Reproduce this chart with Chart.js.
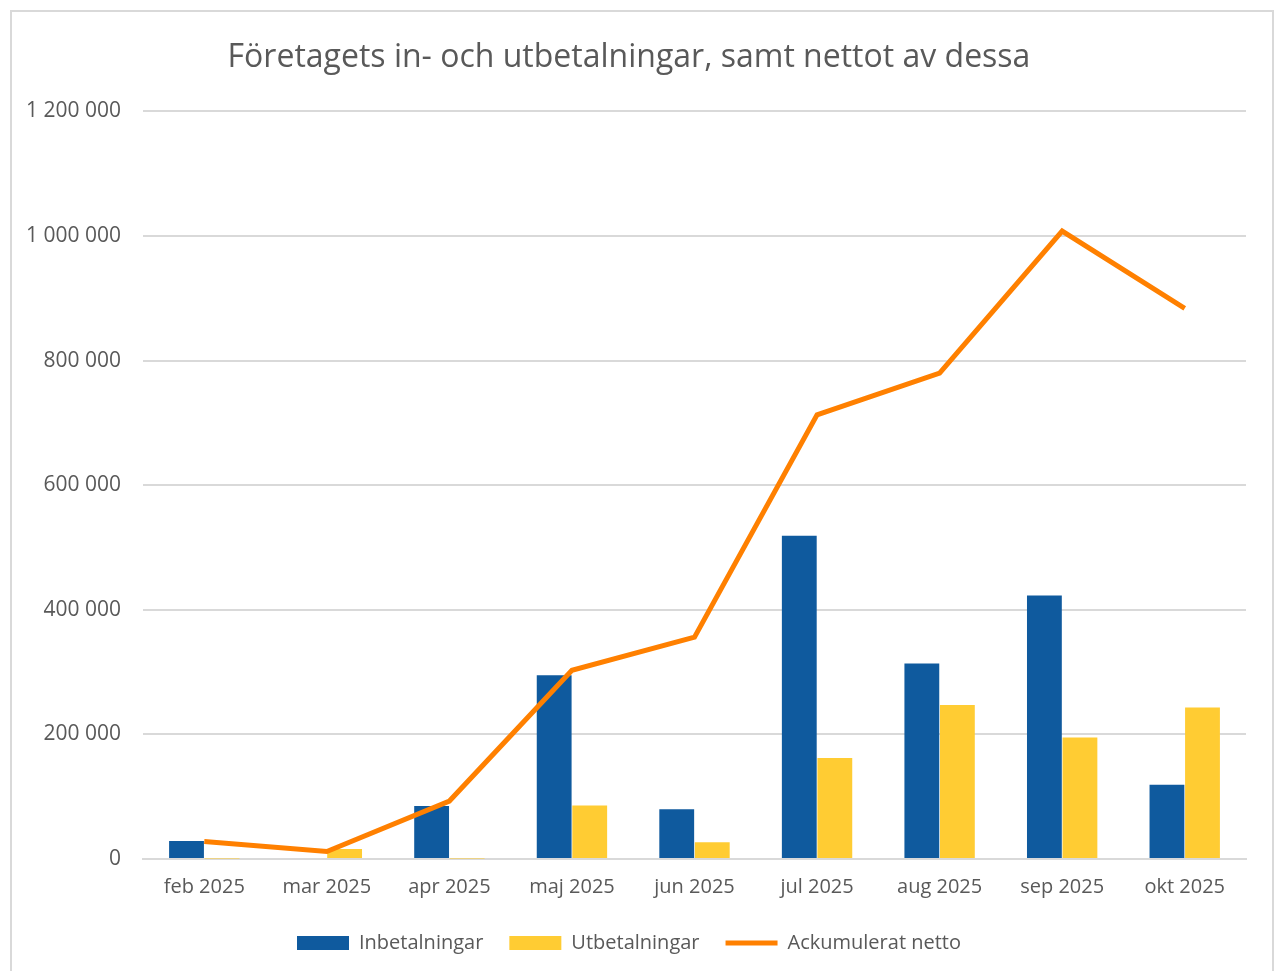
<!DOCTYPE html>
<html>
<head>
<meta charset="utf-8">
<script src="https://cdn.jsdelivr.net/npm/chart.js@4.4.1/dist/chart.umd.min.js"></script>
<style>
  body { margin: 0; background: #fff; }
  #wrap {
    position: absolute; left: 10px; top: 10px;
    width: 1264px; height: 975px;
    border: 2px solid #d9d9d9; box-sizing: border-box;
  }
</style>
</head>
<body>
<div id="wrap"><canvas id="chart"></canvas></div>
<script>
// data
const months = ['feb 2025', 'mar 2025', 'apr 2025', 'maj 2025', 'jun 2025', 'jul 2025', 'aug 2025', 'sep 2025', 'okt 2025'];
const inbetalningar = [29000, 0, 85000, 295000, 80000, 519000, 314000, 423000, 119000];
const utbetalningar = [1000, 16000, 1000, 86000, 27000, 162000, 247000, 195000, 243000];
const ackNetto = [28000, 12000, 93000, 303000, 356000, 713000, 780000, 1008000, 884000];
const yTicks = [0, 200000, 400000, 600000, 800000, 1000000, 1200000];

const grey = '#595959';
const fmt = v => String(v).replace(/\B(?=(\d{3})+(?!\d))/g, ' ');

document.addEventListener('DOMContentLoaded', function() {
    const ctx = document.getElementById('chart').getContext('2d');

    new Chart(ctx, {
        data: {
            labels: months,
            datasets: [
                {
                    type: 'line',
                    label: 'Ackumulerat netto',
                    data: ackNetto,
                    borderColor: '#ff8000',
                    backgroundColor: '#ff8000',
                    borderWidth: 5,
                    tension: 0,
                    pointRadius: 0,
                    pointStyle: 'line',
                    order: 0
                },
                {
                    type: 'bar',
                    label: 'Inbetalningar',
                    data: inbetalningar,
                    backgroundColor: '#0f5a9e',
                    pointStyle: 'rect',
                    barPercentage: 0.98,
                    categoryPercentage: 0.58,
                    order: 1
                },
                {
                    type: 'bar',
                    label: 'Utbetalningar',
                    data: utbetalningar,
                    backgroundColor: '#ffcc33',
                    pointStyle: 'rect',
                    barPercentage: 0.98,
                    categoryPercentage: 0.58,
                    order: 2
                }
            ]
        },
        options: {
            responsive: true,
            maintainAspectRatio: false,
            animation: false,
            layout: { padding: { left: 0, right: 26, top: 0, bottom: 20 } },
            plugins: {
                title: {
                    display: true,
                    text: 'Företagets in- och utbetalningar, samt nettot av dessa',
                    color: grey,
                    font: { family: 'Open Sans', size: 32, weight: 'normal' },
                    padding: { top: 27, bottom: 34 }
                },
                legend: {
                    position: 'bottom',
                    labels: {
                        color: grey,
                        font: { family: 'Open Sans', size: 20 },
                        usePointStyle: true,
                        pointStyleWidth: 52,
                        boxHeight: 14,
                        padding: 26,
                        sort: (a, b) => {
                            const o = ['Inbetalningar', 'Utbetalningar', 'Ackumulerat netto'];
                            return o.indexOf(a.text) - o.indexOf(b.text);
                        }
                    }
                },
                tooltip: { enabled: false }
            },
            scales: {
                x: {
                    grid: { display: false },
                    border: { color: '#d9d9d9', width: 2 },
                    ticks: {
                        color: grey,
                        font: { family: 'Open Sans', size: 20 },
                        maxRotation: 0,
                        padding: 8
                    }
                },
                y: {
                    min: 0,
                    max: 1200000,
                    afterFit: function(scale) { scale.width = 131; },
                    afterBuildTicks: function(scale) {
                        scale.ticks = yTicks.map(v => ({ value: v }));
                    },
                    grid: { color: '#d9d9d9', lineWidth: 2, drawTicks: false },
                    border: { display: false },
                    ticks: {
                        color: grey,
                        font: { family: 'Open Sans', size: 21 },
                        padding: 22,
                        callback: v => fmt(v)
                    }
                }
            }
        }
    });
});
</script>
</body>
</html>
